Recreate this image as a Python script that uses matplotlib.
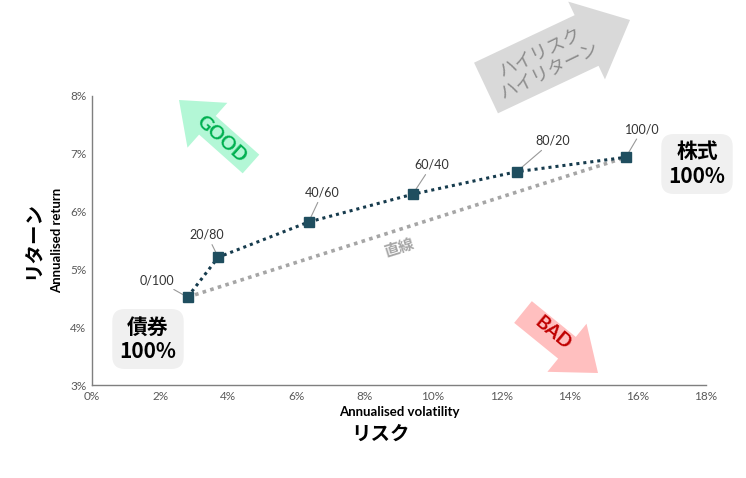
import matplotlib
matplotlib.use("Agg")
import matplotlib.pyplot as plt
from matplotlib.patches import FancyArrow
from matplotlib.transforms import Affine2D
from matplotlib.ticker import FuncFormatter

plt.rcParams['font.family'] = ['Lato', 'Noto Sans CJK JP', 'DejaVu Sans']

# portfolio mixes (stocks/bonds)
mixes = ['0/100', '20/80', '40/60', '60/40', '80/20', '100/0']
volatility = [2.8, 3.7, 6.35, 9.4, 12.45, 15.65]
returns = [4.52, 5.21, 5.82, 6.30, 6.69, 6.94]

# label offsets in points (dx, dy)
label_offsets = [(-22, 8), (-8, 12), (10, 17), (14, 17), (26, 18), (12, 16)]

jp = ['Noto Sans CJK JP', 'DejaVu Sans']
W, H = 746, 478

fig = plt.figure(figsize=(W / 100, H / 100), dpi=100)
ax = fig.add_axes([92 / W, 1 - 385 / H, 614 / W, 289 / H])

# straight line between the two extremes
ax.plot([volatility[0], volatility[-1]], [returns[0], returns[-1]],
        ls=(0, (1, 1.2)), lw=2.6, color='#a6a6a6', zorder=2)
ax.plot(volatility, returns, ls=(0, (1, 1.3)), lw=2.2, color='#163b4d', zorder=3)
ax.plot(volatility, returns, 's', ms=6.5, color='#1f4e5f', zorder=4)

for m, x, y, (dx, dy) in zip(mixes, volatility, returns, label_offsets):
    ax.annotate(m, (x, y), xytext=(dx, dy), textcoords='offset points',
                ha='center', va='bottom', fontsize=9, color='#333333',
                arrowprops=dict(arrowstyle='-', color='#999999', lw=0.8,
                                shrinkA=1, shrinkB=3))

ax.text(9.0, 5.38, '直線', rotation=17, color='#a6a6a6', fontsize=11,
        fontweight='bold', family=jp, ha='center', va='center')

ax.set_xlim(0, 18)
ax.set_ylim(3, 8)
ax.set_xticks(range(0, 19, 2))
ax.set_yticks(range(3, 9))
ax.xaxis.set_major_formatter(FuncFormatter(lambda v, p: f'{v:.0f}%'))
ax.yaxis.set_major_formatter(FuncFormatter(lambda v, p: f'{v:.0f}%'))
ax.tick_params(length=0, labelsize=8.5, colors='#595959', pad=4)
for s in ['top', 'right']:
    ax.spines[s].set_visible(False)
for s in ['left', 'bottom']:
    ax.spines[s].set_color('#7f7f7f')
    ax.spines[s].set_linewidth(1)

ax.set_xlabel('Annualised volatility', fontsize=9.5, fontweight='bold', labelpad=3)
ax.set_ylabel('Annualised return', fontsize=9.5, fontweight='bold', labelpad=5)
fig.text(380 / W, 1 - 434 / H, 'リスク', family=jp, fontsize=14, fontweight='bold',
         ha='center', va='center')
fig.text(32 / W, 1 - 240 / H, 'リターン', family=jp, fontsize=14, fontweight='bold',
         rotation=90, ha='center', va='center')

# big arrows drawn in pixel coordinates (origin top-left)
px = Affine2D().scale(1, -1).translate(0, H)


def big_arrow(x0, y0, x1, y1, body, head_w, head_l, color):
    a = FancyArrow(x0, y0, x1 - x0, y1 - y0, width=body, head_width=head_w,
                   head_length=head_l, length_includes_head=True,
                   color=color, lw=0, transform=px, zorder=0)
    fig.patches.append(a)


big_arrow(486, 88, 630, 20, 56, 86, 48, '#d9d9d9')
big_arrow(251, 164, 179, 100, 25, 60, 38, '#b3f7d6')
big_arrow(523, 312, 598, 373, 28, 62, 40, '#ffbfbf')

fig.text(545 / W, 1 - 62 / H, 'ハイリスク\nハイリターン', family=jp, fontsize=13,
         color='#8c8c8c', rotation=26, ha='center', va='center',
         rotation_mode='anchor', linespacing=1.1)
fig.text(221 / W, 1 - 139 / H, 'GOOD', fontsize=14, fontweight='bold',
         color='#00b050', rotation=-42, ha='center', va='center',
         rotation_mode='anchor')
fig.text(553 / W, 1 - 333 / H, 'BAD', fontsize=14, fontweight='bold',
         color='#c00000', rotation=-40, ha='center', va='center',
         rotation_mode='anchor')

box = dict(boxstyle='round,pad=0.35,rounding_size=0.6', fc='#f0f0f0', ec='none')
fig.text(148 / W, 1 - 339 / H, '債券\n100%', family=jp, fontsize=15,
         fontweight='bold', ha='center', va='center', bbox=box, linespacing=1.2)
fig.text(697 / W, 1 - 164 / H, '株式\n100%', family=jp, fontsize=15,
         fontweight='bold', ha='center', va='center', bbox=box, linespacing=1.2)

fig.savefig('out.png', dpi=100)
